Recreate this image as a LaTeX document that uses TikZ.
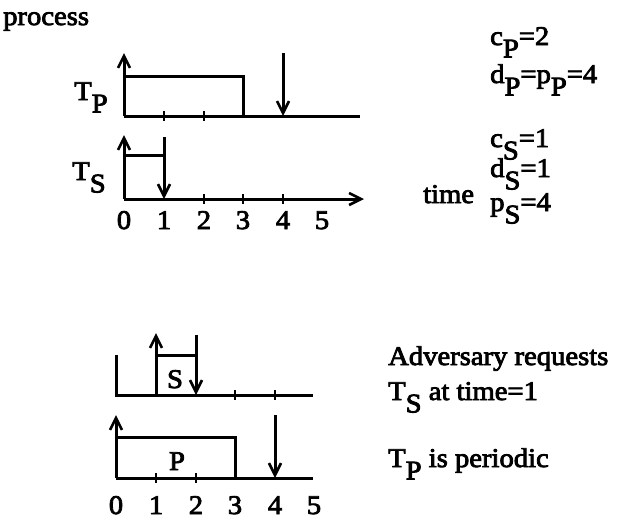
\documentclass[tikz,border=0pt]{standalone}
\usepackage{fontspec}
\setmainfont{Liberation Serif}[FakeStretch=1.06,FakeBold=3]
\usetikzlibrary{arrows.meta}
\newcommand\sbs[1]{\raisebox{-0.46em}{#1}}
\tikzset{
  ln/.style={line width=3pt},
  arr/.style={ln,-{Straight Barb[length=12pt,width=12pt,line width=2.6pt]}},
  tick/.style={line width=2.6pt},
  txt/.style={inner sep=0pt,anchor=base west,font=\fontsize{27}{30}\selectfont},
  lbl/.style={inner sep=0pt,anchor=base,font=\fontsize{27}{30}\selectfont},
}
\begin{document}
\begin{tikzpicture}[x=1pt,y=-1pt]
\useasboundingbox (0,0) rectangle (629,520);
% ---------- top diagram ----------
\node[txt] (process) at (3,25) {process};
\node[lbl] (tp) at (91,100) {T\sbs{P}};
\node[lbl] (ts) at (89,180) {T\sbs{S}};
% TP row
\draw[ln] (124,116) -- (360,116);
\draw[arr] (124,116) -- (124,53);
\draw[ln] (124,76) -- (243,76) -- (243,116);
\foreach \x in {164,204} \draw[tick] (\x,111) -- (\x,121);
\draw[arr] (283,53) -- (283,116);
% TS row
\draw[arr] (124,199) -- (364,199);
\draw[arr] (124,199) -- (124,135);
\draw[ln] (124,155) -- (164,155);
\draw[arr] (164,137) -- (164,199);
\foreach \x in {204,243,283} \draw[tick] (\x,194) -- (\x,204);
\foreach \x/\t in {124/0,164/1,204/2,243/3,283/4,322/5}
  \node[lbl] (ta\t) at (\x,229) {\t};
\node[txt] (time) at (423,203) {time};
% parameters
\node[txt] (cp) at (490,45) {c\sbs{P}=2};
\node[txt] (dp) at (490,83) {d\sbs{P}=p\sbs{P}=4};
\node[txt] (cs) at (490,147) {c\sbs{S}=1};
\node[txt] (ds) at (490,177) {d\sbs{S}=1};
\node[txt] (ps) at (490,211) {p\sbs{S}=4};
% ---------- bottom diagram ----------
% S row
\draw[ln] (116,355) -- (116,395) -- (313,395);
\draw[arr] (156,395) -- (156,333);
\draw[ln] (156,355) -- (196,355);
\draw[arr] (196,335) -- (196,395);
\foreach \x in {235,275} \draw[tick] (\x,390) -- (\x,400);
\node[lbl] (s) at (175,388) {S};
% P row
\draw[ln] (116,478) -- (313,478);
\draw[arr] (116,478) -- (116,415);
\draw[ln] (116,437) -- (235,437) -- (235,478);
\foreach \x in {156,196} \draw[tick] (\x,473) -- (\x,483);
\draw[arr] (275,415) -- (275,478);
\node[lbl] (p) at (177,470) {P};
\foreach \x/\t in {116/0,156/1,196/2,235/3,275/4,314/5}
  \node[lbl] (ba\t) at (\x,514) {\t};
% right texts
\node[txt] (adv) at (388,365) {Adversary requests};
\node[txt] (req) at (388,400) {T\sbs{S} at time=1};
\node[txt] (per) at (388,467) {T\sbs{P} is periodic};
\end{tikzpicture}
\end{document}
